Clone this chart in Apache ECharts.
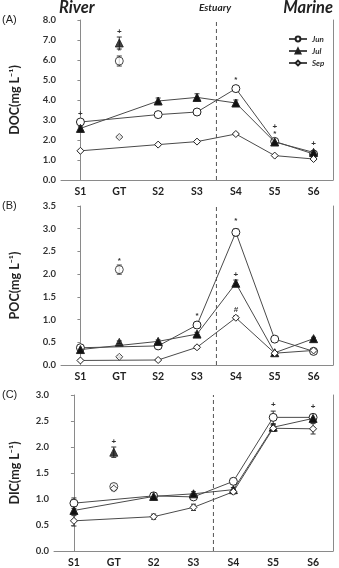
<!DOCTYPE html>
<html>
<head>
<meta charset="utf-8">
<script src="https://cdn.jsdelivr.net/npm/echarts@6/dist/echarts.min.js"></script>
<style>
  html, body { margin: 0; padding: 0; background: #fff; }
  #chart { width: 339px; height: 568px; }
</style>
</head>
<body>
<div id="chart"></div>
<script>
var stations = ['S1', 'GT', 'S2', 'S3', 'S4', 'S5', 'S6'];
var months = ['Jun', 'Jul', 'Sep'];

// DOC (mg/L)
var docJun = [2.9, 5.95, 3.27, 3.4, 4.57, 1.93, 1.3];
var docJul = [2.58, 6.85, 3.95, 4.13, 3.85, 1.9, 1.38];
var docSep = [1.46, 2.15, 1.77, 1.92, 2.3, 1.22, 1.05];
var docJunErr = [0.12, 0.25, 0.1, 0.1, 0.12, 0.08, 0.06];
var docJulErr = [0.08, 0.3, 0.15, 0.18, 0.15, 0.08, 0.08];
var docSepErr = [0.04, 0.05, 0.05, 0.05, 0.05, 0.04, 0.04];

// POC (mg/L)
var pocJun = [0.38, 2.1, 0.42, 0.88, 2.92, 0.57, 0.3];
var pocJul = [0.34, 0.5, 0.52, 0.68, 1.8, 0.27, 0.58];
var pocSep = [0.1, 0.18, 0.11, 0.39, 1.04, 0.26, 0.32];
var pocJunErr = [0.03, 0.1, 0.03, 0.06, 0.08, 0.02, 0.02];
var pocJulErr = [0.03, 0.03, 0.03, 0.04, 0.07, 0.02, 0.03];
var pocSepErr = [0.02, 0.02, 0.02, 0.03, 0.04, 0.02, 0.02];

// DIC (mg/L)
var dicJun = [0.92, 1.24, 1.06, 1.04, 1.34, 2.57, 2.57];
var dicJul = [0.78, 1.9, 1.05, 1.1, 1.18, 2.38, 2.55];
var dicSep = [0.58, 1.2, 0.66, 0.84, 1.14, 2.36, 2.35];
var dicJunErr = [0.1, 0.05, 0.03, 0.03, 0.04, 0.12, 0.05];
var dicJulErr = [0.08, 0.1, 0.03, 0.04, 0.04, 0.05, 0.08];
var dicSepErr = [0.1, 0.04, 0.05, 0.06, 0.04, 0.06, 0.1];

// significance marks: [station index, y, text]
var docMarks = [[0, 3.3, '+'], [1, 7.4, '+'], [1, 6.45, '*'], [4, 5.0, '*'], [5, 2.67, '+'], [5, 2.33, '*'], [6, 1.8, '+']];
var pocMarks = [[1, 2.3, '*'], [3, 1.08, '*'], [4, 3.17, '*'], [4, 1.99, '+'], [4, 1.21, '#']];
var dicMarks = [[1, 2.1, '+'], [5, 2.82, '+'], [6, 2.78, '+']];

var yNames = ['DOC(mg L\u207B\u00B9)', 'POC(mg L\u207B\u00B9)', 'DIC(mg L\u207B\u00B9)'];
var yMax = [8, 3.5, 3];
var yStep = [1, 0.5, 0.5];
var panelLabels = ['(A)', '(B)', '(C)'];
var estuaryAt = 3.5;

var panels = [
    { vals: [docJun, docJul, docSep], errs: [docJunErr, docJulErr, docSepErr], marks: docMarks },
    { vals: [pocJun, pocJul, pocSep], errs: [pocJunErr, pocJulErr, pocSepErr], marks: pocMarks },
    { vals: [dicJun, dicJul, dicSep], errs: [dicJunErr, dicJulErr, dicSepErr], marks: dicMarks }
];

var grids = [
    { left: 58, right: 6, top: 20, height: 160 },
    { left: 58, right: 6, top: 206, height: 159 },
    { left: 51, right: 6, top: 395, height: 158 }
];

var symbols = ['circle', 'triangle', 'diamond'];
var fills = ['#fff', '#111', '#fff'];
var sizes = [8, 8, 7];
var lineColor = '#4a4a4a';
var axisColor = '#8a8a8a';
var font = 'Lato, "Open Sans", sans-serif';

var xAxes = [], yAxes = [], series = [], graphics = [];

grids.forEach(function (g, p) {
    xAxes.push({
        type: 'category', gridIndex: p, data: stations, boundaryGap: true,
        axisLine: { lineStyle: { color: axisColor, width: 1 } },
        axisTick: { length: 4, lineStyle: { color: axisColor } },
        axisLabel: { color: '#222', fontWeight: 'bold', fontSize: 10.5, fontFamily: font, margin: 6 }
    });
    yAxes.push({
        type: 'value', gridIndex: p, min: 0, max: yMax[p], interval: yStep[p],
        name: yNames[p], nameLocation: 'middle', nameGap: p == 2 ? 33 : 40,
        nameTextStyle: { fontWeight: 'bold', fontSize: 12.5, color: '#222', fontFamily: font },
        splitLine: { show: false },
        axisLine: { show: true, lineStyle: { color: axisColor } },
        axisTick: { show: true, length: 3, lineStyle: { color: axisColor } },
        axisLabel: {
            color: '#333', fontWeight: 'bold', fontSize: 9.5, fontFamily: font, margin: 5,
            formatter: function (v) { return v.toFixed(1); }
        }
    });
});
// hidden value x axes for the estuary divider, and right frame axes
grids.forEach(function (g, p) {
    xAxes.push({ type: 'value', gridIndex: p, min: -0.5, max: 6.5, show: false });
    yAxes.push({
        type: 'value', gridIndex: p, position: 'right', min: 0, max: yMax[p],
        axisLine: { show: true, lineStyle: { color: axisColor } },
        axisTick: { show: false }, axisLabel: { show: false }, splitLine: { show: false }
    });
});

// lines first so legend takes their look
panels.forEach(function (pn, p) {
    months.forEach(function (m, k) {
        series.push({
            name: m, type: 'line', xAxisIndex: p, yAxisIndex: p,
            data: pn.vals[k].map(function (v, i) { return stations[i] == 'GT' ? '-' : v; }),
            connectNulls: true,
            symbol: symbols[k], symbolSize: sizes[k], showAllSymbol: true,
            lineStyle: { color: lineColor, width: 1 },
            itemStyle: { color: fills[k], borderColor: '#222', borderWidth: 1 },
            z: 3 + k
        });
    });
});

panels.forEach(function (pn, p) {
    months.forEach(function (m, k) {
        var gi = stations.indexOf('GT');
        series.push({
            name: m, type: 'scatter', xAxisIndex: p, yAxisIndex: p,
            data: [[gi, pn.vals[k][gi]]],
            symbol: symbols[k], symbolSize: sizes[k],
            itemStyle: { color: fills[k], borderColor: '#222', borderWidth: 1 },
            z: 3 + k
        });
        // error bars
        series.push({
            type: 'custom', xAxisIndex: p, yAxisIndex: p, z: 2, silent: true,
            data: pn.vals[k].map(function (v, i) { return [i, v - pn.errs[k][i], v + pn.errs[k][i]]; }),
            renderItem: function (params, api) {
                var lo = api.coord([api.value(0), api.value(1)]);
                var hi = api.coord([api.value(0), api.value(2)]);
                var w = 2.5;
                var st = { stroke: '#333', lineWidth: 1 };
                return {
                    type: 'group', children: [
                        { type: 'line', shape: { x1: lo[0], y1: lo[1], x2: hi[0], y2: hi[1] }, style: st },
                        { type: 'line', shape: { x1: lo[0] - w, y1: lo[1], x2: lo[0] + w, y2: lo[1] }, style: st },
                        { type: 'line', shape: { x1: hi[0] - w, y1: hi[1], x2: hi[0] + w, y2: hi[1] }, style: st }
                    ]
                };
            }
        });
    });
    // significance marks
    series.push({
        type: 'custom', xAxisIndex: p, yAxisIndex: p, z: 6, silent: true,
        data: pn.marks,
        renderItem: function (params, api) {
            var pt = api.coord([api.value(0), api.value(1)]);
            return {
                type: 'text',
                style: {
                    x: pt[0], y: pt[1], text: pn.marks[params.dataIndex][2],
                    fill: '#333', font: 'bold 8px sans-serif', align: 'center', verticalAlign: 'middle'
                }
            };
        }
    });
    // estuary divider
    series.push({
        type: 'line', xAxisIndex: 3 + p, yAxisIndex: 3 + p, silent: true,
        data: [[estuaryAt, 0], [estuaryAt, yMax[p]]],
        symbol: 'none', lineStyle: { color: '#555', width: 1, type: [4, 3] }, z: 1
    });
    graphics.push({
        type: 'text', left: 2, top: grids[p].top - 6,
        style: { text: panelLabels[p], font: '11px "Liberation Sans", Arial, sans-serif', fill: '#222' }
    });
});

graphics.push(
    { type: 'text', left: 59, top: -1, style: { text: 'River', font: 'italic bold 16.5px ' + font, fill: '#222' } },
    { type: 'text', left: 199, top: 3, style: { text: 'Estuary', font: 'italic bold 10px ' + font, fill: '#222' } },
    { type: 'text', right: 6, top: -1, style: { text: 'Marine', font: 'italic bold 16.5px ' + font, fill: '#222' } }
);

var chart = echarts.init(document.getElementById('chart'));
chart.setOption({
    animation: false,
    grid: grids,
    xAxis: xAxes,
    yAxis: yAxes,
    legend: {
        data: months, orient: 'vertical', left: 283, top: 30,
        itemGap: 4, itemWidth: 18, itemHeight: 6,
        textStyle: { fontSize: 8, fontStyle: 'italic', fontWeight: 'bold', color: '#333', fontFamily: font }
    },
    graphic: graphics,
    series: series
});
</script>
</body>
</html>
